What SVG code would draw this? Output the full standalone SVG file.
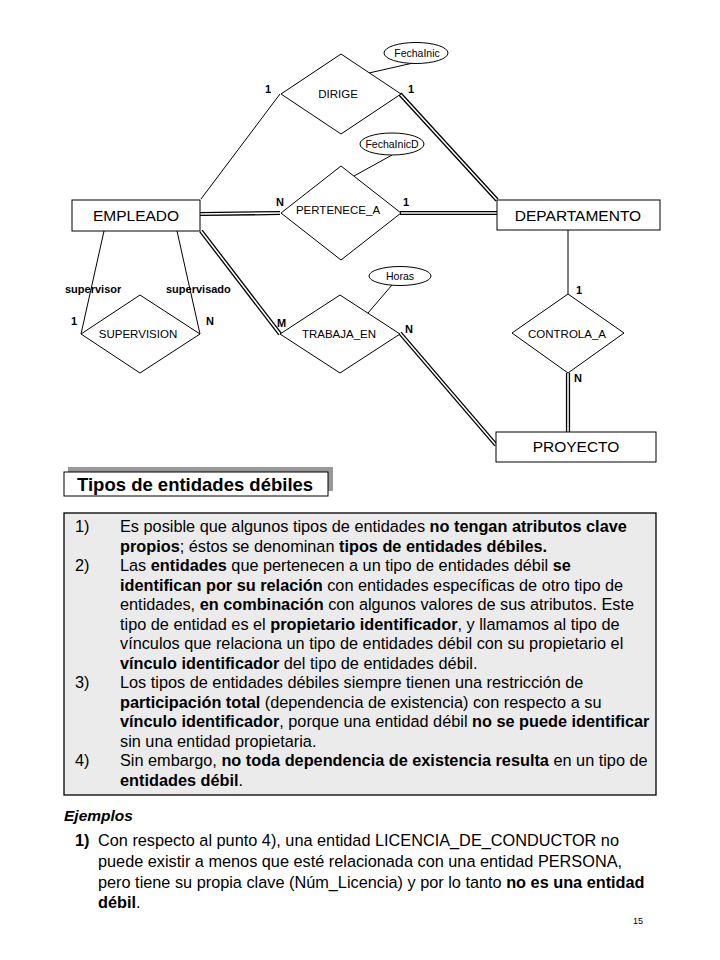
<svg xmlns="http://www.w3.org/2000/svg" width="720" height="960" viewBox="0 0 720 960">
<style>
.ent{fill:#fff;stroke:#000;stroke-width:1}
.rel{fill:#fff;stroke:#000;stroke-width:1}
.att{fill:#fff;stroke:#000;stroke-width:1}
.ln{stroke:#000;stroke-width:1;fill:none}
.dk{stroke:#000;stroke-width:4.2;fill:none}
.dw{stroke:#fff;stroke-width:1.6;fill:none}
.et{font-family:"Liberation Sans",Arial,sans-serif;font-size:15.5px;text-anchor:middle;fill:#000}
.rt{font-family:"Liberation Sans",Arial,sans-serif;font-size:11.5px;text-anchor:middle;fill:#000}
.at{font-family:"Liberation Sans",Arial,sans-serif;font-size:10.5px;text-anchor:middle;fill:#000}
.cd{font-family:"Liberation Sans",Arial,sans-serif;font-size:11px;font-weight:bold;fill:#000}
.bt{font-family:"Liberation Sans",Arial,sans-serif;font-size:16.3px;fill:#000}
.b{font-weight:bold}
</style>
<rect x="0" y="0" width="720" height="960" fill="#fff"/>

<g id="connectors">
  <!-- single lines -->
  <line class="ln" x1="201" y1="199" x2="280" y2="94"/>
  <line class="ln" x1="568" y1="230" x2="568" y2="294"/>
  <line class="ln" x1="104" y1="231" x2="81" y2="334"/>
  <line class="ln" x1="177" y1="231" x2="200" y2="334"/>
  <line class="ln" x1="413" y1="63" x2="369" y2="73"/>
  <line class="ln" x1="392" y1="155" x2="354" y2="176"/>
  <line class="ln" x1="392" y1="285" x2="368" y2="313"/>
  <!-- double lines (total participation) -->
  <g>
    <line class="dk" x1="400" y1="94" x2="497" y2="200"/>
    <line class="dk" x1="200" y1="214" x2="280" y2="213"/>
    <line class="dk" x1="400" y1="213" x2="497" y2="213"/>
    <line class="dk" x1="201" y1="231" x2="280" y2="334"/>
    <line class="dk" x1="400" y1="333" x2="496" y2="445"/>
    <line class="dk" x1="568" y1="373" x2="568" y2="432"/>
    <line class="dw" x1="400" y1="94" x2="497" y2="200"/>
    <line class="dw" x1="200" y1="214" x2="280" y2="213"/>
    <line class="dw" x1="400" y1="213" x2="497" y2="213"/>
    <line class="dw" x1="201" y1="231" x2="280" y2="334"/>
    <line class="dw" x1="400" y1="333" x2="496" y2="445"/>
    <line class="dw" x1="568" y1="373" x2="568" y2="432"/>
  </g>
  <!-- cardinalities / roles -->
  <text class="cd" x="265" y="93">1</text>
  <text class="cd" x="408" y="93">1</text>
  <text class="cd" x="276" y="206">N</text>
  <text class="cd" x="403" y="206">1</text>
  <text class="cd" x="277" y="327">M</text>
  <text class="cd" x="405" y="333">N</text>
  <text class="cd" x="576" y="294">1</text>
  <text class="cd" x="574" y="382">N</text>
  <text class="cd" x="71" y="325">1</text>
  <text class="cd" x="206" y="325">N</text>
  <text class="cd" x="65" y="293">supervisor</text>
  <text class="cd" x="166" y="293">supervisado</text>
</g>

<g id="EMPLEADO">
  <rect class="ent" x="72" y="200" width="128" height="31"/>
  <text class="et" x="136" y="221">EMPLEADO</text>
</g>
<g id="DEPARTAMENTO">
  <rect class="ent" x="497" y="200" width="163" height="30"/>
  <text class="et" x="578" y="221">DEPARTAMENTO</text>
</g>
<g id="PROYECTO">
  <rect class="ent" x="496" y="432" width="160" height="30"/>
  <text class="et" x="576" y="452">PROYECTO</text>
</g>

<g id="DIRIGE">
  <polygon class="rel" points="341,54 401,94 341,134 281,94"/>
  <text class="rt" x="338" y="98">DIRIGE</text>
</g>
<g id="PERTENECE_A">
  <polygon class="rel" points="341,166 401,213 341,260 281,213"/>
  <text class="rt" x="338" y="214">PERTENECE_A</text>
</g>
<g id="TRABAJA_EN">
  <polygon class="rel" points="340,295 400,334 340,373 280,334"/>
  <text class="rt" x="339" y="338">TRABAJA_EN</text>
</g>
<g id="CONTROLA_A">
  <polygon class="rel" points="568,294 624,333 568,373 512,333"/>
  <text class="rt" x="567" y="338">CONTROLA_A</text>
</g>
<g id="SUPERVISION">
  <polygon class="rel" points="140,295 200,334 140,373 81,334"/>
  <text class="rt" x="138" y="338">SUPERVISION</text>
</g>

<g id="FechaInic">
  <ellipse class="att" cx="416" cy="53" rx="32" ry="10.5"/>
  <text class="at" x="417" y="57">FechaInic</text>
</g>
<g id="FechaInicD">
  <ellipse class="att" cx="392" cy="144" rx="32" ry="11"/>
  <text class="at" x="392" y="148">FechaInicD</text>
</g>
<g id="Horas">
  <ellipse class="att" cx="400" cy="276" rx="31" ry="9.5"/>
  <text class="at" x="400" y="280">Horas</text>
</g>

<g id="titulo">
  <rect x="68" y="467" width="265" height="24" fill="#999"/>
  <rect x="64" y="472" width="264" height="24" fill="#fff" stroke="#000" stroke-width="1"/>
  <text x="77" y="491" font-family="'Liberation Sans',Arial,sans-serif" font-size="18.5px" font-weight="bold" fill="#000">Tipos de entidades débiles</text>
</g>

<g id="cuadro">
  <rect x="64" y="513" width="592" height="282" fill="#ebebeb" stroke="#000" stroke-width="1.3"/>
  <text class="bt" x="75" y="532">1)</text>
  <text class="bt" x="120" y="532">Es posible que algunos tipos de entidades <tspan class="b">no tengan atributos clave</tspan></text>
  <text class="bt" x="120" y="551.5"><tspan class="b">propios</tspan>; éstos se denominan <tspan class="b">tipos de entidades débiles.</tspan></text>
  <text class="bt" x="75" y="571">2)</text>
  <text class="bt" x="120" y="571">Las <tspan class="b">entidades</tspan> que pertenecen a un tipo de entidades débil <tspan class="b">se</tspan></text>
  <text class="bt" x="120" y="590.5"><tspan class="b">identifican por su relación</tspan> con entidades específicas de otro tipo de</text>
  <text class="bt" x="120" y="610">entidades, <tspan class="b">en combinación</tspan> con algunos valores de sus atributos. Este</text>
  <text class="bt" x="120" y="629.5">tipo de entidad es el <tspan class="b">propietario identificador</tspan>, y llamamos al tipo de</text>
  <text class="bt" x="120" y="649">vínculos que relaciona un tipo de entidades débil con su propietario el</text>
  <text class="bt" x="120" y="668.5"><tspan class="b">vínculo identificador</tspan> del tipo de entidades débil.</text>
  <text class="bt" x="75" y="688">3)</text>
  <text class="bt" x="120" y="688">Los tipos de entidades débiles siempre tienen una restricción de</text>
  <text class="bt" x="120" y="707.5"><tspan class="b">participación total</tspan> (dependencia de existencia) con respecto a su</text>
  <text class="bt" x="120" y="727"><tspan class="b">vínculo identificador</tspan>, porque una entidad débil <tspan class="b">no se puede identificar</tspan></text>
  <text class="bt" x="120" y="746.5">sin una entidad propietaria.</text>
  <text class="bt" x="75" y="766">4)</text>
  <text class="bt" x="120" y="766">Sin embargo, <tspan class="b">no toda dependencia de existencia resulta</tspan> en un tipo de</text>
  <text class="bt" x="120" y="785.5"><tspan class="b">entidades débil</tspan>.</text>
</g>

<g id="ejemplos">
  <text x="64" y="821" font-family="'Liberation Sans',Arial,sans-serif" font-size="15.5px" font-weight="bold" font-style="italic" fill="#000">Ejemplos</text>
  <text class="bt b" x="75" y="846">1)</text>
  <text class="bt" x="98" y="846">Con respecto al punto 4), una entidad LICENCIA_DE_CONDUCTOR no</text>
  <text class="bt" x="98" y="867">puede existir a menos que esté relacionada con una entidad PERSONA,</text>
  <text class="bt" x="98" y="888">pero tiene su propia clave (Núm_Licencia) y por lo tanto <tspan class="b">no es una entidad</tspan></text>
  <text class="bt" x="98" y="908"><tspan class="b">débil</tspan>.</text>
  <text x="633" y="924" font-family="'Liberation Sans',Arial,sans-serif" font-size="9px" fill="#000">15</text>
</g>
</svg>
